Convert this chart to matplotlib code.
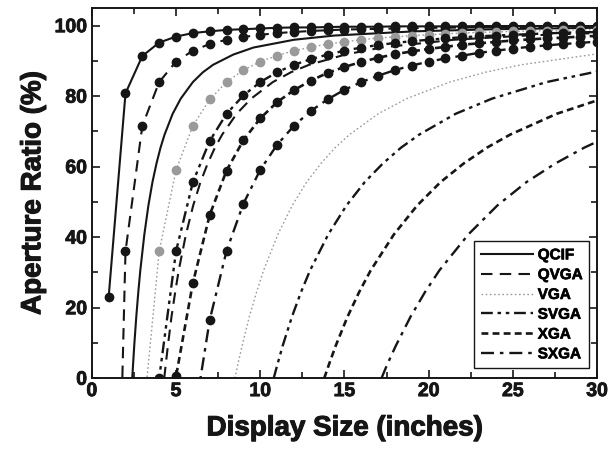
import numpy as np
import matplotlib
matplotlib.use("Agg")
import matplotlib.pyplot as plt
import matplotlib.patheffects as PathEffects
from matplotlib.ticker import MultipleLocator

plt.rcParams['font.family'] = ['Liberation Sans', 'DejaVu Sans']
plt.rcParams['font.weight'] = 'bold'

nan = np.nan

# display size (inches) of the dotted series
sizes = list(range(1, 31))

# aperture ratio (%) read at each inch, dotted series
qcif_dots = [23.0, 80.8, 91.4, 95.2, 96.9, 97.9, 98.4, 98.8, 99.0, 99.2,
             99.4, 99.5, 99.5, 99.6, 99.7, 99.7, 99.7, 99.8, 99.8, 99.8,
             99.8, 99.8, 99.9, 99.9, 99.9, 99.9, 99.9, 99.9, 99.9, 99.9]
qvga_dots = [-156, 36.0, 71.6, 84.0, 89.8, 92.9, 94.8, 96.0, 96.8, 97.4,
             97.9, 98.2, 98.5, 98.7, 98.9, 99.0, 99.1, 99.2, 99.3, 99.4,
             99.4, 99.5, 99.5, 99.6, 99.6, 99.6, 99.6, 99.7, 99.7, 99.7]
vga_dots = [nan, nan, -13.8, 36.0, 59.0, 71.6, 79.1, 84.0, 87.4, 89.8,
            91.5, 92.9, 93.9, 94.8, 95.4, 96.0, 96.5, 96.8, 97.2, 97.4,
            97.7, 97.9, 98.1, 98.2, 98.4, 98.5, 98.6, 98.7, 98.8, 98.9]
svga_dots = [nan, nan, -77.8, 0.0, 36.0, 55.6, 67.3, 75.0, 80.2, 84.0,
             86.8, 88.9, 90.5, 91.8, 92.9, 93.8, 94.5, 95.1, 95.6, 96.0,
             96.4, 96.7, 97.0, 97.2, 97.4, 97.6, 97.8, 98.0, 98.1, 98.2]
xga_dots = [nan, nan, nan, -64.0, 0.5, 27.0, 46.3, 58.9, 67.5, 73.7,
            78.3, 81.7, 84.4, 86.6, 88.3, 89.7, 90.9, 91.9, 92.7, 93.4,
            94.0, 94.6, 95.0, 95.4, 95.8, 96.1, 96.4, 96.6, 96.9, 97.1]
sxga_dots = [nan, nan, nan, nan, nan, -13.6, 16.5, 36.1, 49.5, 59.1,
             66.2, 71.6, 75.8, 79.1, 81.8, 84.0, 85.8, 87.4, 88.7, 89.8,
             90.7, 91.5, 92.3, 92.9, 93.5, 94.0, 94.4, 94.8, 95.1, 95.5]

# plain curves (no dots): display size and aperture ratio
ratio_steps = [0, 3.9, 9.3, 17.4, 24.4, 30.6, 40.8, 49.0, 55.6, 60.9, 65.4,
               69.1, 75.0, 79.3, 84.0, 86.8, 88.9, 91.8, 93.8, 96.0, 97.2,
               98.4, 99.0, 99.4]
qcif_x = [2.4, 2.45, 2.52, 2.64, 2.76, 2.88, 3.12, 3.36, 3.6, 3.84, 4.08, 4.32,
          4.8, 5.28, 6.0, 6.6, 7.2, 8.4, 9.6, 12.0, 14.4, 19.2, 24.0, 30.0]
qcif_y = ratio_steps
qvga_x = [4.3, 4.39, 4.52, 4.73, 4.95, 5.16, 5.59, 6.02, 6.45, 6.88, 7.31,
          7.74, 8.6, 9.46, 10.75, 11.83, 12.9, 15.05, 17.2, 21.5, 25.8, 30.0]
qvga_y = ratio_steps[:21] + [97.9]
vga_x = [8.5, 8.67, 8.93, 9.35, 9.78, 10.2, 11.05, 11.9, 12.75, 13.6, 14.45,
         15.3, 17.0, 18.7, 21.25, 23.38, 25.5, 30.0]
vga_y = ratio_steps[:17] + [92.0]
svga_x = [10.8, 11.02, 11.34, 11.88, 12.42, 12.96, 14.04, 15.12, 16.2, 17.28,
          18.36, 19.44, 21.6, 23.76, 27.0, 30.0]
svga_y = ratio_steps[:15] + [87.0]
xga_x = [13.8, 14.08, 14.49, 15.18, 15.87, 16.56, 17.94, 19.32, 20.7, 22.08,
         23.46, 24.84, 27.6, 30.0]
xga_y = ratio_steps[:13] + [78.8]
sxga_x = [17.2, 17.54, 18.06, 18.92, 19.78, 20.64, 22.36, 24.08, 25.8, 27.52,
          29.24, 30.0]
sxga_y = ratio_steps[:11] + [67.1]

labels = ['QCIF', 'QVGA', 'VGA', 'SVGA', 'XGA', 'SXGA']

ink = '#161616'
grey = '#9a9a9a'
styles = [
    dict(ls='-', lw=1.5, color=ink),
    dict(ls=(0, (5.5, 3.5)), lw=1.5, color=ink),
    dict(ls=(0, (1.2, 1.8)), lw=1.0, color=grey),
    dict(ls=(0, (5, 2, 1.5, 2, 1.5, 2)), lw=1.7, color=ink),
    dict(ls=(0, (2.6, 1.6)), lw=1.9, color=ink),
    dict(ls=(0, (5.5, 2.5, 1.5, 2.5)), lw=1.7, color=ink),
]

fig = plt.figure(figsize=(6.08, 4.52), dpi=100)
ax = fig.add_axes([0.151, 0.161, 0.831, 0.819])

dotted = [qcif_dots, qvga_dots, vga_dots, svga_dots, xga_dots, sxga_dots]
plain = [(qcif_x, qcif_y), (qvga_x, qvga_y), (vga_x, vga_y),
         (svga_x, svga_y), (xga_x, xga_y), (sxga_x, sxga_y)]

handles = []
for i in range(6):
    st = styles[i]
    ax.plot(sizes, dotted[i], marker='o', ms=6, mfc=st['color'],
            mec=st['color'], **st)
    h, = ax.plot(plain[i][0], plain[i][1], label=labels[i], **st)
    handles.append(h)

ax.set_xlim(0, 30)
ax.set_ylim(0, 105)
ax.xaxis.set_major_locator(MultipleLocator(5))
ax.xaxis.set_minor_locator(MultipleLocator(2.5))
ax.yaxis.set_major_locator(MultipleLocator(20))
ax.yaxis.set_minor_locator(MultipleLocator(10))
ax.tick_params(which='both', direction='in', top=True, right=True,
               labelsize=14, width=1.2, colors=ink)
ax.tick_params(which='major', length=6)
ax.tick_params(which='minor', length=4)
for s in ax.spines.values():
    s.set_linewidth(1.4)
    s.set_color(ink)

heavy = [PathEffects.withStroke(linewidth=0.8, foreground=ink)]
ax.set_xlabel('Display Size (inches)', fontsize=20, fontweight='bold',
              color=ink, labelpad=11, path_effects=heavy)
ax.set_ylabel('Aperture Ratio (%)', fontsize=20, fontweight='bold',
              color=ink, labelpad=6, path_effects=heavy)
for t in ax.get_xticklabels() + ax.get_yticklabels():
    t.set_path_effects([PathEffects.withStroke(linewidth=0.6, foreground=ink)])

leg = ax.legend(handles=handles, loc='lower right',
                bbox_to_anchor=(0.985, 0.027), borderaxespad=0,
                fancybox=False, framealpha=1, edgecolor=ink,
                prop={'size': 11, 'weight': 'bold'},
                handlelength=3.4, handletextpad=0.3, labelspacing=0.38,
                borderpad=0.45)
leg.get_frame().set_linewidth(1.0)
for t in leg.get_texts():
    t.set_path_effects([PathEffects.withStroke(linewidth=0.5, foreground=ink)])

fig.savefig('out.png', dpi=100)
